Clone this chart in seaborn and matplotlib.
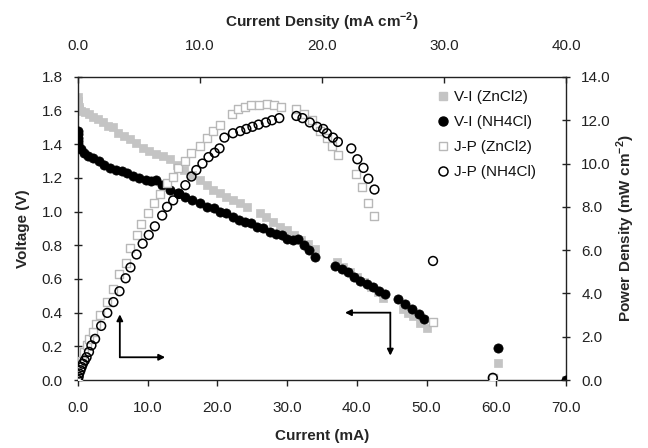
import matplotlib
matplotlib.use("Agg")
import matplotlib.pyplot as plt
import seaborn as sns
import pandas as pd
from matplotlib.ticker import FormatStrFormatter, MultipleLocator
from matplotlib.lines import Line2D

# ---------------- data ----------------
# V-I (ZnCl2): current (mA), voltage (V)
vi_zn_current = [0, 0, 0, 0.1, 0.2, 0.5, 1.0, 1.6, 2.2, 2.9, 3.6, 4.3, 5.0, 5.8, 6.6, 7.4,
                 8.3, 9.3, 10.2, 11.2, 12.2, 13.2, 14.2, 15.2, 16.3, 17.5, 18.5, 19.4, 20.3,
                 21.3, 22.3, 23.2, 24.2, 26.1, 27.0, 28.0, 29.0, 30.0, 31.0, 32.0, 33.0, 34.0,
                 37.1, 38.0, 39.0, 40.0, 41.0, 42.0, 43.0, 43.8, 46.6, 47.4, 48.1, 49.1, 50.0,
                 60.2, 70.0]
vi_zn_voltage = [1.68, 1.66, 1.64, 1.62, 1.61, 1.60, 1.59, 1.58, 1.56, 1.55, 1.53, 1.51, 1.50,
                 1.47, 1.45, 1.43, 1.41, 1.38, 1.36, 1.34, 1.33, 1.31, 1.28, 1.25, 1.22, 1.19,
                 1.16, 1.13, 1.11, 1.09, 1.07, 1.05, 1.03, 0.99, 0.97, 0.94, 0.91, 0.89, 0.86,
                 0.83, 0.81, 0.78, 0.70, 0.67, 0.64, 0.61, 0.58, 0.55, 0.52, 0.49, 0.42, 0.40,
                 0.38, 0.34, 0.31, 0.10, 0.0]

# V-I (NH4Cl): current (mA), voltage (V)
vi_nh_current = [0, 0, 0, 0, 0, 0.1, 0.4, 0.9, 1.5, 2.2, 3.0, 3.8, 4.6, 5.5, 6.3, 7.0, 7.9,
                 8.8, 9.7, 10.5, 11.2, 12.1, 13.2, 14.3, 15.3, 16.4, 17.5, 18.5, 19.5, 20.4,
                 21.3, 22.2, 23.1, 24.0, 24.8, 25.7, 26.6, 27.5, 28.4, 29.2, 30.0, 30.9, 31.6,
                 32.4, 33.2, 34.0, 36.9, 37.8, 38.7, 39.6, 40.5, 41.4, 42.3, 43.2, 44.0, 45.9,
                 46.9, 47.9, 48.9, 49.7, 60.2, 70.0]
vi_nh_voltage = [1.48, 1.46, 1.44, 1.42, 1.40, 1.38, 1.37, 1.35, 1.33, 1.32, 1.30, 1.28, 1.26,
                 1.25, 1.24, 1.23, 1.21, 1.20, 1.19, 1.18, 1.19, 1.16, 1.13, 1.11, 1.09, 1.07,
                 1.05, 1.03, 1.02, 1.00, 0.99, 0.97, 0.95, 0.94, 0.93, 0.91, 0.90, 0.88, 0.87,
                 0.86, 0.84, 0.83, 0.84, 0.80, 0.77, 0.73, 0.68, 0.66, 0.64, 0.61, 0.59, 0.57,
                 0.55, 0.53, 0.51, 0.48, 0.45, 0.42, 0.39, 0.36, 0.19, 0.0]

# J-P (ZnCl2): current density (mA cm-2), power density (mW cm-2)
jp_zn_density = [0, 0.15, 0.3, 0.5, 0.7, 0.9, 1.2, 1.5, 1.8, 2.4, 2.9, 3.4, 3.9, 4.3, 4.8, 5.2,
                 5.7, 6.2, 6.7, 7.3, 7.8, 8.2, 8.8, 9.3, 10.0, 10.6, 11.1, 11.6, 12.6, 13.1,
                 13.7, 14.2, 14.8, 15.5, 16.1, 16.6, 17.9, 18.5, 19.2, 19.8, 20.4, 20.8, 21.3,
                 22.8, 23.3, 23.8, 24.3, 29.1, 34.0]
jp_zn_power = [0.1, 0.5, 0.9, 1.3, 1.6, 1.9, 2.2, 2.6, 3.0, 3.6, 4.2, 4.9, 5.4, 6.1, 6.7, 7.2,
               7.7, 8.2, 8.6, 9.1, 9.4, 9.8, 10.1, 10.5, 10.8, 11.2, 11.5, 11.8, 12.3, 12.5,
               12.6, 12.7, 12.7, 12.75, 12.7, 12.6, 12.5, 12.3, 12.0, 11.5, 11.2, 10.8, 10.4,
               9.5, 8.9, 8.2, 7.6, 2.7, 0.1]

# J-P (NH4Cl): current density (mA cm-2), power density (mW cm-2)
jp_nh_density = [0, 0.05, 0.1, 0.2, 0.3, 0.4, 0.55, 0.7, 0.9, 1.1, 1.4, 1.9, 2.4, 2.9, 3.4,
                 3.9, 4.3, 4.8, 5.3, 5.8, 6.3, 6.9, 7.3, 7.8, 8.3, 8.8, 9.3, 9.7, 10.2, 10.7,
                 11.2, 11.6, 12.0, 12.7, 13.3, 13.8, 14.3, 14.8, 15.4, 15.9, 16.5, 17.9, 18.4,
                 19.0, 19.6, 20.1, 20.4, 20.9, 21.3, 22.4, 22.9, 23.4, 23.8, 24.3, 29.1, 34.0]
jp_nh_power = [0.0, 0.15, 0.3, 0.45, 0.6, 0.75, 0.9, 1.05, 1.3, 1.6, 1.9, 2.5, 3.1, 3.6, 4.1,
               4.7, 5.2, 5.8, 6.3, 6.7, 7.1, 7.6, 8.0, 8.3, 8.6, 9.0, 9.4, 9.7, 10.0, 10.3,
               10.5, 10.7, 11.2, 11.4, 11.5, 11.6, 11.7, 11.8, 11.9, 12.0, 12.1, 12.2, 12.1,
               11.9, 11.7, 11.6, 11.4, 11.2, 11.0, 10.7, 10.2, 9.8, 9.3, 8.8, 5.5, 0.1]

labels = ["V-I (ZnCl2)", "V-I (NH4Cl)", "J-P (ZnCl2)", "J-P (NH4Cl)"]

# ---------------- style ----------------
sns.set_theme(style="ticks")
plt.rcParams["font.family"] = ["Liberation Sans", "DejaVu Sans"]
plt.rcParams["axes.linewidth"] = 1.0
plt.rcParams["text.color"] = "#111111"

GRAY = "#c4c4c4"
INK = "#222222"
FS = 11
fig = plt.figure(figsize=(6.48, 4.48), dpi=100)
pos = [78 / 648, 1 - 380 / 448, (566 - 78) / 648, (380 - 77) / 448]
ax = fig.add_axes(pos)
ax2 = fig.add_axes(pos, frameon=False)

df_zn = pd.DataFrame({"I": vi_zn_current, "V": vi_zn_voltage})
df_nh = pd.DataFrame({"I": vi_nh_current, "V": vi_nh_voltage})
df_jz = pd.DataFrame({"J": jp_zn_density, "P": jp_zn_power})
df_jn = pd.DataFrame({"J": jp_nh_density, "P": jp_nh_power})

sns.scatterplot(data=df_zn, x="I", y="V", ax=ax, marker="s", s=36, color=GRAY,
                edgecolor=GRAY, linewidth=0.5, zorder=2)
sns.scatterplot(data=df_nh, x="I", y="V", ax=ax, marker="o", s=44, color="black",
                edgecolor="black", linewidth=0.5, zorder=3)
sns.scatterplot(data=df_jz, x="J", y="P", ax=ax2, marker="s", s=36, facecolor="white",
                edgecolor="#b8b8b8", linewidth=1.0, zorder=2)
sns.scatterplot(data=df_jn, x="J", y="P", ax=ax2, marker="o", s=40, facecolor="none",
                edgecolor="black", linewidth=1.1, zorder=3)

# primary axes
ax.set_xlim(0, 70)
ax.set_ylim(0, 1.8)
ax.xaxis.set_major_locator(MultipleLocator(10))
ax.yaxis.set_major_locator(MultipleLocator(0.2))
ax.xaxis.set_major_formatter(FormatStrFormatter("%.1f"))
ax.yaxis.set_major_formatter(FormatStrFormatter("%.1f"))
ax.tick_params(axis="x", direction="out", length=4, width=1, labelsize=FS, pad=11,
               colors=INK, labelcolor=INK)
ax.tick_params(axis="y", direction="inout", length=6, width=1, labelsize=FS, pad=8,
               colors=INK, labelcolor=INK)
ax.set_xlabel("Current (mA)", fontsize=FS, fontweight="bold", labelpad=10)
ax.set_ylabel("Voltage (V)", fontsize=FS, fontweight="bold", labelpad=8)
for s in ax.spines.values():
    s.set_visible(True)
    s.set_color(INK)

# secondary axes (top / right)
ax2.set_xlim(0, 40)
ax2.set_ylim(0, 14)
ax2.patch.set_visible(False)
ax2.xaxis.tick_top()
ax2.xaxis.set_label_position("top")
ax2.yaxis.tick_right()
ax2.yaxis.set_label_position("right")
ax2.xaxis.set_major_locator(MultipleLocator(10))
ax2.yaxis.set_major_locator(MultipleLocator(2))
ax2.xaxis.set_major_formatter(FormatStrFormatter("%.1f"))
ax2.yaxis.set_major_formatter(FormatStrFormatter("%.1f"))
ax2.tick_params(axis="x", direction="in", length=4, width=1, labelsize=FS, pad=17,
                colors=INK, labelcolor=INK)
ax2.tick_params(axis="y", direction="inout", length=6, width=1, labelsize=FS, pad=8,
                colors=INK, labelcolor=INK)
ax2.set_xlabel("Current Density (mA cm$^{\\mathregular{-2}}$)", fontsize=FS,
               fontweight="bold", labelpad=9)
ax2.set_ylabel("Power Density (mW cm$^{\\mathregular{-2}}$)", fontsize=FS,
               fontweight="bold", rotation=90, labelpad=3)

# direction arrows
arrow_kw = dict(arrowstyle="-|>", lw=1.3, color="black", mutation_scale=9, shrinkA=0, shrinkB=0)
ax.annotate("", xy=(6.0, 0.39), xytext=(6.0, 0.135), arrowprops=arrow_kw, zorder=5)
ax.annotate("", xy=(12.5, 0.135), xytext=(6.0, 0.135), arrowprops=arrow_kw, zorder=5)
ax.annotate("", xy=(38.3, 0.40), xytext=(44.8, 0.40), arrowprops=arrow_kw, zorder=5)
ax.annotate("", xy=(44.8, 0.145), xytext=(44.8, 0.40), arrowprops=arrow_kw, zorder=5)

# legend
handles = [
    Line2D([], [], ls="none", marker="s", ms=6, mfc=GRAY, mec=GRAY),
    Line2D([], [], ls="none", marker="o", ms=6.5, mfc="black", mec="black"),
    Line2D([], [], ls="none", marker="s", ms=6, mfc="white", mec="#b8b8b8", mew=1.0),
    Line2D([], [], ls="none", marker="o", ms=6.5, mfc="none", mec="black", mew=1.1),
]
for a in (ax, ax2):
    lg = a.get_legend()
    if lg is not None:
        lg.remove()
ax2.legend(handles, labels, loc="upper left", bbox_to_anchor=(429 / 648, 1 - 84 / 448),
           bbox_transform=fig.transFigure, frameon=False, fontsize=FS,
           handletextpad=0.25, handlelength=1.0, labelspacing=0.72, borderaxespad=0.0)

fig.savefig("out.png", dpi=100)
